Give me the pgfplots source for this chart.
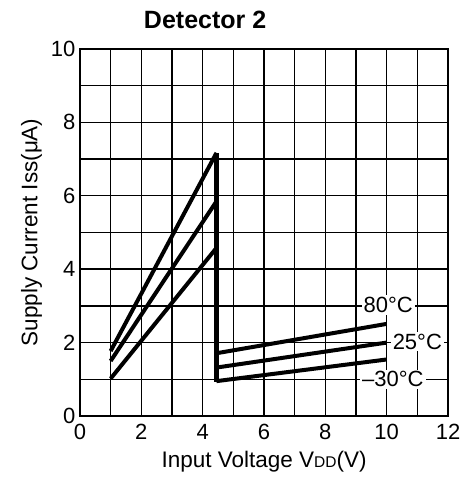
\documentclass[border=0pt]{standalone}
\usepackage{fontspec}
\setmainfont{Liberation Sans}
\usepackage{pgfplots}
\pgfplotsset{compat=1.18}

\begin{document}
\begin{tikzpicture}[x=1pt,y=1pt]
% fix the page to the reference proportions
\path[use as bounding box] (-80,-65) rectangle (383,416);
\begin{axis}[
    at={(0,0)}, anchor=south west,
    scale only axis,
    width=368pt, height=367pt,
    xmin=0, xmax=12, ymin=0, ymax=10,
    xtick={0,1,...,12},
    xticklabels={0,,2,,4,,6,,8,,10,,12},
    ytick={0,1,...,10},
    yticklabels={0,,2,,4,,6,,8,,10},
    grid=major,
    major grid style={black, line width=1.4pt},
    axis line style={black, line width=1.8pt},
    major tick length=0pt,
    ticklabel style={font=\fontsize{22}{26}\selectfont},
    xticklabel style={yshift=-5pt},
    yticklabel style={xshift=-1pt},
    /pgf/number format/assume math mode=true,
    xlabel={Input Voltage V{\fontsize{15.5}{18}\selectfont DD}(V)},
    ylabel={Supply Current Iss(μA)},
    label style={font=\fontsize{22.5}{26}\selectfont},
    xlabel style={yshift=-4pt},
    ylabel style={yshift=2pt},
    clip=false,
]
% low-voltage branch
\addplot[black, line width=4pt] coordinates {(1,1.77) (4.45,7.17)};
\addplot[black, line width=4pt] coordinates {(1,1.50) (4.45,5.85)};
\addplot[black, line width=4pt] coordinates {(1,1.02) (4.45,4.58)};
% step
\addplot[black, line width=4.5pt] coordinates {(4.45,7.17) (4.45,0.93)};
% high-voltage branch
\addplot[black, line width=4pt] coordinates {(4.45,1.71) (10,2.51)};
\addplot[black, line width=4pt] coordinates {(4.45,1.32) (10,2.00)};
\addplot[black, line width=4pt] coordinates {(4.45,0.95) (10,1.54)};

\node[fill=white, inner sep=2pt, font=\fontsize{22}{26}\selectfont] at (axis cs:10.05,3.03) {80°C};
\node[fill=white, inner sep=2pt, font=\fontsize{22}{26}\selectfont] at (axis cs:11.0,2.03) {25°C};
\node[fill=white, inner sep=2pt, font=\fontsize{22}{26}\selectfont] at (axis cs:10.2,1.0) {–30°C};

\node[font=\bfseries\fontsize{25}{30}\selectfont] at (rel axis cs:0.34,1.08) {Detector 2};
\end{axis}
\end{tikzpicture}
\end{document}
